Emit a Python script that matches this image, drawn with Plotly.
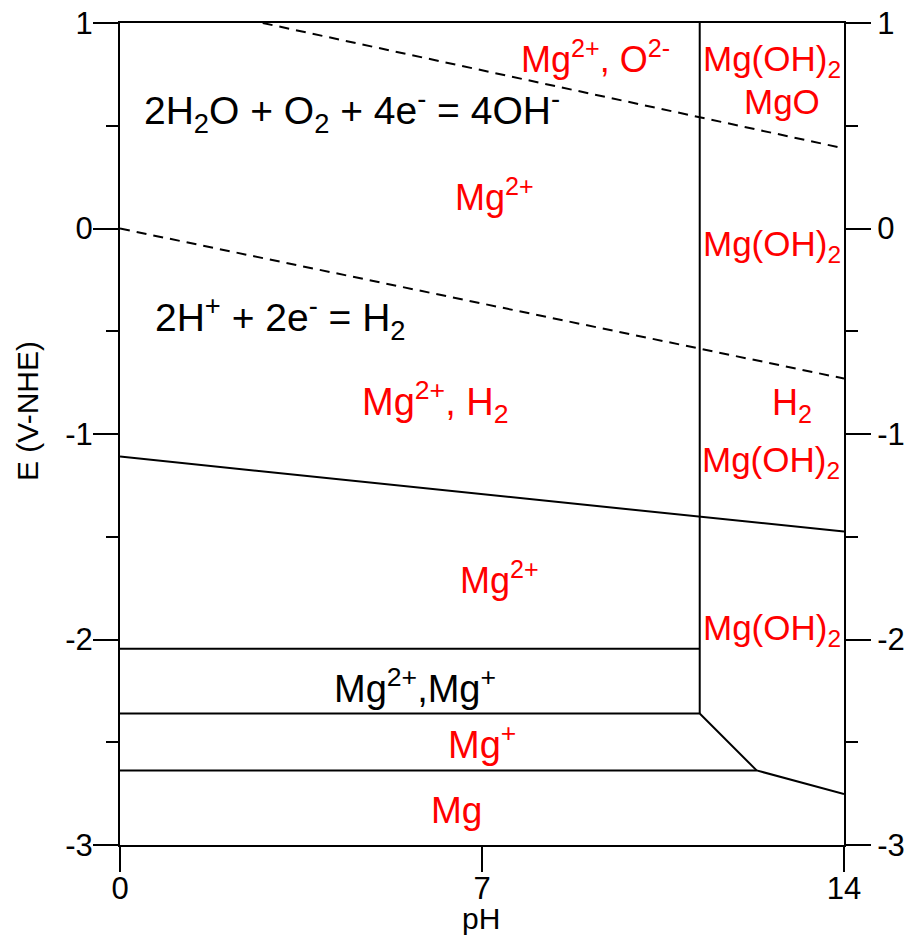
import plotly.graph_objects as go

# Pourbaix (E-pH) diagram of magnesium in water

# Water stability lines (dashed)
ph_o2 = [2.76, 14.0]
e_o2 = [1.0, 0.39]
ph_h2 = [0.0, 14.0]
e_h2 = [0.0, -0.73]

# Phase boundaries (solid)
ph_mgoh = [0.0, 14.0]
e_mgoh = [-1.11, -1.475]
ph_vert = [11.21, 11.21]
e_vert = [1.0, -2.36]
ph_mg2_mg1 = [0.0, 11.21]
e_mg2_mg1 = [-2.045, -2.045]
ph_mix_low = [0.0, 11.21, 12.31]
e_mix_low = [-2.36, -2.36, -2.637]
ph_mg_low = [0.0, 12.31, 14.0]
e_mg_low = [-2.637, -2.637, -2.752]

# Axis ticks
x_ticks = [0, 7, 14]
y_ticks = [1, 0, -1, -2, -3]

# Region / reaction labels: (text, pH, E, colour, font size)
RED = "#ff0000"
BLK = "#000000"
labels = [
    ("Mg<sup>2+</sup>, O<sup>2-</sup>", 9.20, 0.835, RED, 36),
    ("Mg(OH)<sub>2</sub>", 12.60, 0.815, RED, 35),
    ("MgO", 12.81, 0.62, RED, 35),
    ("Mg(OH)<sub>2</sub>", 12.60, -0.085, RED, 35),
    ("2H<sub>2</sub>O + O<sub>2</sub> + 4e<sup>-</sup> = 4OH<sup>-</sup>", 4.48, 0.572, BLK, 39),
    ("Mg<sup>2+</sup>", 7.25, 0.163, RED, 36),
    ("2H<sup>+</sup> + 2e<sup>-</sup> = H<sub>2</sub>", 3.11, -0.435, BLK, 39),
    ("Mg<sup>2+</sup>, H<sub>2</sub>", 6.09, -0.844, RED, 38),
    ("H<sub>2</sub>", 12.99, -0.859, RED, 36),
    ("Mg(OH)<sub>2</sub>", 12.58, -1.136, RED, 35),
    ("Mg<sup>2+</sup>", 7.34, -1.70, RED, 36),
    ("Mg(OH)<sub>2</sub>", 12.60, -1.954, RED, 35),
    ("Mg<sup>2+</sup>,Mg<sup>+</sup>", 5.70, -2.226, BLK, 38),
    ("Mg<sup>+</sup>", 7.0, -2.499, RED, 38),
    ("Mg", 6.51, -2.83, RED, 37),
]

FONT = "Arial, Liberation Sans, sans-serif"

fig = go.Figure()

dash = "10px,7px"
for xs, ys in [(ph_o2, e_o2), (ph_h2, e_h2)]:
    fig.add_trace(go.Scatter(x=xs, y=ys, mode="lines",
                             line=dict(color="black", width=2, dash=dash),
                             hoverinfo="skip", showlegend=False))

for xs, ys in [(ph_mgoh, e_mgoh), (ph_vert, e_vert), (ph_mg2_mg1, e_mg2_mg1),
               (ph_mix_low, e_mix_low), (ph_mg_low, e_mg_low)]:
    fig.add_trace(go.Scatter(x=xs, y=ys, mode="lines",
                             line=dict(color="black", width=2),
                             hoverinfo="skip", showlegend=False))

# invisible trace on the right-hand axis so it is drawn
fig.add_trace(go.Scatter(x=[0], y=[0], yaxis="y2", mode="markers",
                         marker=dict(opacity=0), hoverinfo="skip",
                         showlegend=False))

for text, x, y, col, size in labels:
    fig.add_annotation(x=x, y=y, text=text, showarrow=False,
                       xanchor="center", yanchor="middle",
                       font=dict(family=FONT, size=size, color=col))

# axis titles
fig.add_annotation(xref="paper", yref="paper", x=-0.127, y=0.528,
                   text="E (V-NHE)", textangle=-90, showarrow=False,
                   xanchor="center", yanchor="middle",
                   font=dict(family=FONT, size=30, color="black"))
fig.add_annotation(xref="paper", yref="paper", x=0.498, y=-0.090,
                   text="pH", showarrow=False,
                   xanchor="center", yanchor="middle",
                   font=dict(family=FONT, size=30, color="black"))

yaxis_common = dict(
    range=[-3, 1], tickvals=y_ticks, ticktext=[str(v) for v in y_ticks],
    ticks="outside", ticklen=25, tickwidth=2, tickcolor="black",
    showline=True, linewidth=2, linecolor="black",
    showgrid=False, zeroline=False, automargin=False,
    tickfont=dict(family=FONT, size=31, color="black"),
    minor=dict(tickvals=[0.5, -0.5, -1.5, -2.5], ticks="outside",
               ticklen=12, tickwidth=2, tickcolor="black", showgrid=False),
)

fig.update_layout(
    width=912, height=936,
    margin=dict(l=120, r=68, t=23, b=91, autoexpand=False),
    paper_bgcolor="white", plot_bgcolor="white",
    xaxis=dict(range=[0, 14], tickvals=x_ticks,
               ticks="outside", ticklen=25, tickwidth=2, tickcolor="black",
               showline=True, linewidth=2, linecolor="black", mirror=True,
               showgrid=False, zeroline=False, automargin=False,
               ticklabelstandoff=-10,
               tickfont=dict(family=FONT, size=31, color="black")),
    yaxis=dict(side="left", ticklabelstandoff=-6, **yaxis_common),
    yaxis2=dict(side="right", overlaying="y", **yaxis_common),
)

fig.write_html("out.html")
